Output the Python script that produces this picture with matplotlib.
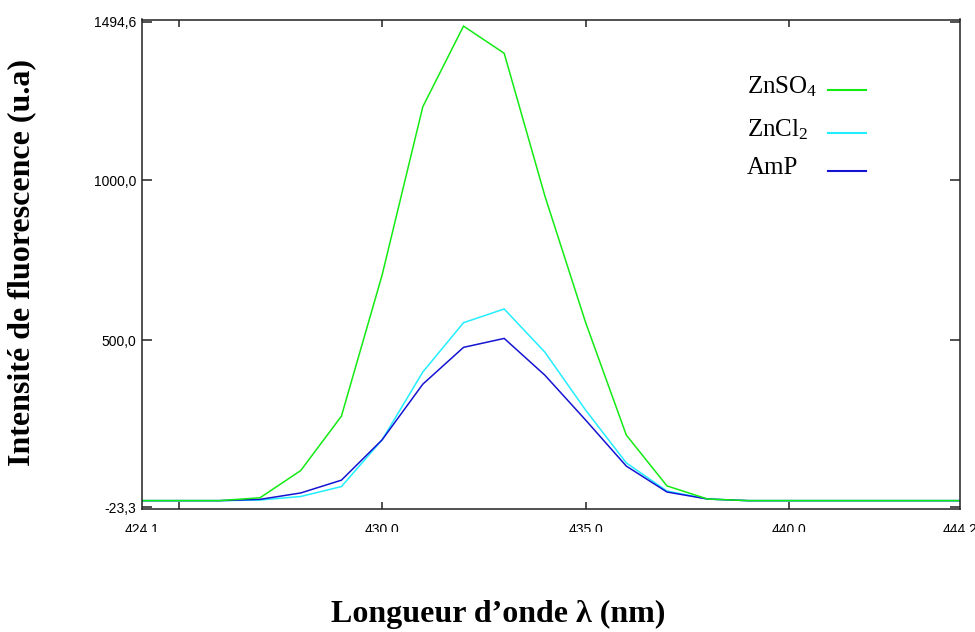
import matplotlib
matplotlib.use("Agg")
import matplotlib.pyplot as plt
from matplotlib.lines import Line2D
from matplotlib.transforms import Bbox, blended_transform_factory

# Emission spectra (fluorescence intensity, arbitrary units)
wavelength = [424, 425, 426, 427, 428, 429, 430, 431, 432, 433, 434,
              435, 436, 437, 438, 439, 440, 441, 442, 443, 444, 445]
znso4 = [-2, -2, -2, 7, 92, 262, 703, 1229, 1481, 1396, 950,
         555, 203, 44, 3, -2, -2, -2, -2, -2, -2, -2]
zncl2 = [-2, -2, -2, 0, 11, 42, 188, 400, 554, 597, 462,
         281, 116, 28, 3, -2, -2, -2, -2, -2, -2, -2]
amp = [-2, -2, -2, 2, 22, 62, 188, 362, 477, 505, 390,
       250, 106, 25, 3, -2, -2, -2, -2, -2, -2, -2]

series_names = ["ZnSO$_4$", "ZnCl$_2$", "AmP"]
series_colors = ["#14ea14", "#22eeff", "#1414d2"]

y_ticks = [-23.3, 500.0, 1000.0, 1494.6]
y_tick_labels = ["-23,3", "500,0", "1000,0", "1494,6"]
x_ticks = [425, 430, 435, 440]
x_label_pos = [424.1, 430.0, 435.0, 440.0, 444.2]
x_label_text = ["424,1", "430,0", "435,0", "440,0", "444,2"]

plt.rcParams["mathtext.fontset"] = "custom"
plt.rcParams["mathtext.rm"] = "Liberation Serif"
plt.rcParams["mathtext.it"] = "Liberation Serif:italic"

W, H, DPI = 975, 632, 100
fig = plt.figure(figsize=(W / DPI, H / DPI), dpi=DPI)
ax = fig.add_axes([142 / W, 1 - 509 / H, (960 - 142) / W, (509 - 19.5) / H])

for ys, c in zip([zncl2, amp, znso4], [series_colors[1], series_colors[2], series_colors[0]]):
    ax.plot(wavelength, ys, color=c, lw=1.1, solid_joinstyle="miter")

ax.set_xlim(424.1, 444.2)
ax.set_ylim(-28.1, 1501.6)

ax.set_yticks(y_ticks)
ax.set_yticklabels(y_tick_labels, family="Liberation Sans", fontsize=10)
ax.set_xticks(x_ticks)
ax.set_xticklabels([])
ax.tick_params(axis="y", direction="in", length=7, width=1.1, pad=4,
               right=True, color="#222222")
ax.tick_params(axis="x", direction="in", length=5, width=1.1,
               top=True, color="#222222")
for s in ax.spines.values():
    s.set_linewidth(1.1)
    s.set_color("#222222")

# x tick labels, cut off just below the frame
clip = Bbox.from_extents(0, H - 532, W, H)
tr = blended_transform_factory(ax.transData, fig.transFigure)
for xp, txt in zip(x_label_pos, x_label_text):
    t = ax.text(xp, 1 - 523 / H, txt, transform=tr, ha="center", va="top",
                family="Liberation Sans", fontsize=10, clip_on=True)
    t.set_clip_box(clip)

# legend: names on the left, line samples on the right
legend_rows = [90, 133, 171]
for name, c, yr in zip(series_names, series_colors, legend_rows):
    fig.text(747 / W, 1 - (yr + 3) / H, name, family="Liberation Serif",
             fontsize=18, ha="left", va="baseline")
    fig.add_artist(Line2D([828 / W, 866 / W], [1 - yr / H, 1 - yr / H],
                          color=c, lw=1.5, transform=fig.transFigure))

fig.text(22 / W, 1 - 262 / H, "Intensité de fluorescence (u.a)",
         family="Liberation Serif", fontweight="bold", fontsize=23,
         rotation=90, ha="center", va="center")
fig.text(498 / W, 1 - 614 / H, "Longueur d\u2019onde \u03bb (nm)",
         family="Liberation Serif", fontweight="bold", fontsize=23,
         ha="center", va="center")

fig.savefig("out.png", dpi=DPI)
